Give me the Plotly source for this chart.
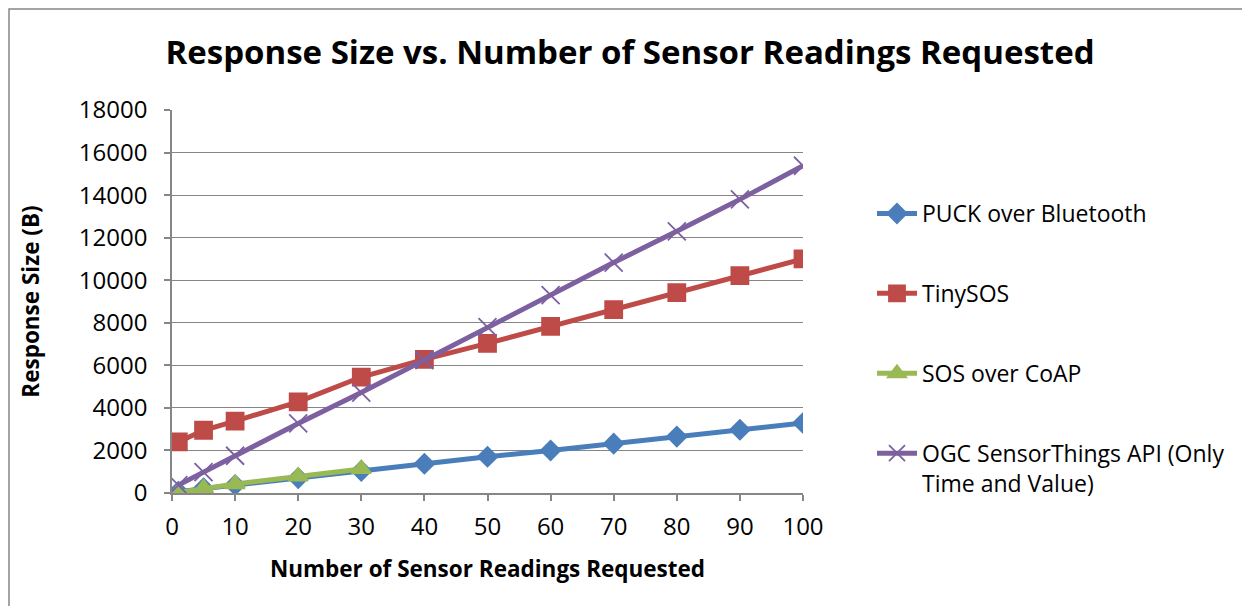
import plotly.graph_objects as go

readings = [1, 5, 10, 20, 30, 40, 50, 60, 70, 80, 90, 100]
puck = [60, 220, 380, 700, 1040, 1370, 1700, 2000, 2320, 2650, 2970, 3290]
tinysos = [2400, 2950, 3380, 4280, 5450, 6280, 7030, 7830, 8620, 9420, 10220, 11000]
coap_readings = [1, 5, 10, 20, 30]
coap = [30, 220, 420, 780, 1130]
ogc = [370, 980, 1750, 3270, 4720, 6250, 7800, 9300, 10830, 12300, 13800, 15380]
x_ticks = list(range(0, 101, 10))
y_ticks = list(range(0, 18001, 2000))

FONT = "Open Sans"
fig = go.Figure()
series = [
    ("PUCK over Bluetooth", readings, puck, "#4A7EBB", "diamond", 15),
    ("TinySOS", readings, tinysos, "#BE4B48", "square", 17),
    ("SOS over CoAP", coap_readings, coap, "#98B954", "triangle-up", 17),
    ("OGC SensorThings API (Only<br>Time and Value)", readings, ogc, "#7D60A0", "x-thin", 18),
]
for i, (name, xs, ys, col, sym, sz) in enumerate(series):
    fig.add_trace(go.Scatter(
        x=xs, y=ys, name=name, mode="lines+markers",
        line=dict(color=col, width=5),
        marker=dict(symbol=sym, size=sz, color=col, line=dict(color=col, width=1.8)),
        legendgroup=str(i),
    ))

axis_col = "#868686"
FW, FH = 1234, 598
L, T, W, H = 164, 102, 631, 383
fig.update_layout(
    width=FW, height=FH,
    margin=dict(l=L, r=FW - L - W, t=T, b=FH - T - H, autoexpand=False),
    paper_bgcolor="white", plot_bgcolor="white",
    font=dict(family=FONT, color="black", size=23),
    title=dict(text="<b>Response Size vs. Number of Sensor Readings Requested</b>",
               x=622 / FW, xanchor="center", y=1 - 44 / FH, yanchor="middle",
               font=dict(size=33, family=FONT), automargin=False),
    xaxis=dict(range=[0, 100], tickvals=x_ticks, ticktext=[str(v) for v in x_ticks], showgrid=False,
               showline=True, linecolor=axis_col, linewidth=1.5, automargin=False,
               ticks="outside", ticklen=6, tickcolor=axis_col, tickwidth=1.5,
               tickfont=dict(size=24), zeroline=False, ticklabelstandoff=5,
               title=dict(text="<b>Number of Sensor Readings Requested</b>", font=dict(size=22.5), standoff=21)),
    yaxis=dict(range=[0, 18000], tickvals=y_ticks, ticktext=[str(v) for v in y_ticks], showgrid=True,
               gridcolor=axis_col, gridwidth=1, showline=True, linecolor=axis_col, linewidth=1.5,
               ticks="outside", ticklen=6, tickcolor=axis_col, tickwidth=1.5, automargin=False,
               tickfont=dict(size=24), zeroline=False, ticklabelstandoff=12,
               title=dict(text="<b>Response Size (B)</b>", font=dict(size=22.5), standoff=33)),
    legend=dict(xref="container", yref="container", x=864 / FW, y=1 - 184 / FH,
                xanchor="left", yanchor="top", tracegroupgap=47, valign="top",
                font=dict(size=23), itemwidth=40, bgcolor="rgba(0,0,0,0)", maxheight=590),
    showlegend=True,
)
# outer chart border: only left and top edges are visible in the reference
bx0 = -(L - 1) / W
bx1 = (FW + 40 - L) / W
by0 = -(FH + 40 - T - H) / H
by1 = (T + H - 1) / H
fig.add_shape(type="path", xref="paper", yref="paper",
              path=f"M {bx0},{by0} L {bx0},{by1} L {bx1},{by1}",
              line=dict(color="#868686", width=1.5), layer="below")
fig.write_html("out.html")
